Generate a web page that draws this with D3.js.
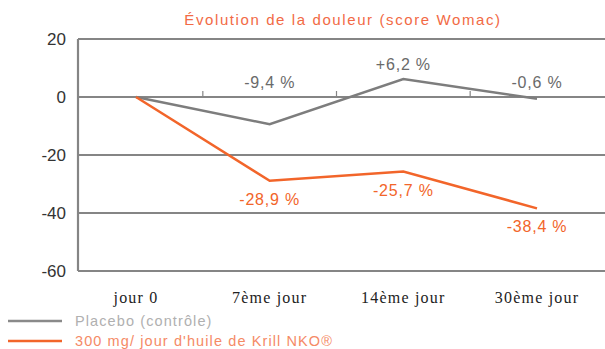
<!DOCTYPE html>
<html>
<head>
<meta charset="utf-8">
<script src="https://cdn.jsdelivr.net/npm/d3@7"></script>
<style>
  html, body { margin: 0; padding: 0; background: #fff; }
  svg { display: block; }
</style>
</head>
<body>
<svg id="chart" width="605" height="349"></svg>
<script>
// Pain score evolution (Womac), % change from day 0
const categories = ["jour 0", "7ème jour", "14ème jour", "30ème jour"];
const placebo = [0, -9.4, 6.2, -0.6];
const krill = [0, -28.9, -25.7, -38.4];
const yTicks = [20, 0, -20, -40, -60];
const seriesNames = ["Placebo (contrôle)", "300 mg/ jour d'huile de Krill NKO®"];
const titleText = "Évolution de la douleur (score Womac)";

const svg = d3.select("#chart");
const plotLeft = 78, plotRight = 605;

const x = d3.scalePoint().domain(categories).range([136, 537]);
const y = d3.scaleLinear().domain([-60, 20]).range([271, 39]);

const gridColor = "#858585";
const grayLine = "#7d7d7d";
const orange = "#f2652a";
const sans = "'Liberation Sans', Arial, sans-serif";
const serif = "'Liberation Serif', 'Times New Roman', serif";

// Title
svg.append("text")
  .attr("x", 343).attr("y", 25)
  .attr("text-anchor", "middle")
  .attr("font-family", sans).attr("font-size", 15)
  .attr("letter-spacing", 1.6)
  .attr("fill", "#f26a45")
  .text(titleText);

// Horizontal grid lines
svg.append("g").selectAll("line").data(yTicks).join("line")
  .attr("x1", plotLeft).attr("x2", plotRight)
  .attr("y1", d => y(d)).attr("y2", d => y(d))
  .attr("stroke", gridColor).attr("stroke-width", 2.2);

// Vertical axis line
svg.append("line")
  .attr("x1", plotLeft).attr("x2", plotLeft)
  .attr("y1", y(20)).attr("y2", y(-60))
  .attr("stroke", gridColor).attr("stroke-width", 2.2);

// Y tick labels
svg.append("g").selectAll("text").data(yTicks).join("text")
  .attr("x", 66).attr("y", d => y(d))
  .attr("dy", "0.36em")
  .attr("text-anchor", "end")
  .attr("font-family", sans).attr("font-size", 17)
  .attr("fill", "#333")
  .text(d => d);

// Category separator ticks on the zero line
const mids = d3.pairs(categories).map(([a, b]) => (x(a) + x(b)) / 2);
svg.append("g").selectAll("line").data(mids).join("line")
  .attr("x1", d => d).attr("x2", d => d)
  .attr("y1", y(0) - 6).attr("y2", y(0))
  .attr("stroke", gridColor).attr("stroke-width", 1.2);

// X category labels
svg.append("g").selectAll("text").data(categories).join("text")
  .attr("x", d => x(d)).attr("y", 303)
  .attr("text-anchor", "middle")
  .attr("font-family", serif).attr("font-size", 16)
  .attr("letter-spacing", 1.2)
  .attr("fill", "#222")
  .text(d => d);

const line = d3.line()
  .x((d, i) => x(categories[i]))
  .y(d => y(d));

svg.append("path").datum(placebo)
  .attr("d", line).attr("fill", "none")
  .attr("stroke", grayLine).attr("stroke-width", 2.5)
  .attr("stroke-linejoin", "miter");

svg.append("path").datum(krill)
  .attr("d", line).attr("fill", "none")
  .attr("stroke", orange).attr("stroke-width", 2.5)
  .attr("stroke-linejoin", "miter");

const fmt = v => (v > 0 ? "+" : "") + d3.format(".1f")(v).replace(".", ",").replace("−", "-") + " %";

// Value labels (skip day 0)
svg.append("g").selectAll("text").data(placebo.slice(1)).join("text")
  .attr("x", (d, i) => x(categories[i + 1]))
  .attr("y", d => y(Math.max(d, 0)) - 9)
  .attr("text-anchor", "middle")
  .attr("font-family", sans).attr("font-size", 16)
  .attr("letter-spacing", 0.8)
  .attr("fill", "#6a6a6a")
  .text(fmt);

svg.append("g").selectAll("text").data(krill.slice(1)).join("text")
  .attr("x", (d, i) => x(categories[i + 1]))
  .attr("y", d => y(d) + 24)
  .attr("text-anchor", "middle")
  .attr("font-family", sans).attr("font-size", 16)
  .attr("letter-spacing", 0.8)
  .attr("fill", orange)
  .text(fmt);

// Legend
const legend = svg.append("g");
const legendColors = ["#8a8a8a", orange];
const legendText = ["#b0b0b0", "#f58a66"];
seriesNames.forEach((name, i) => {
  const ly = 321 + i * 20;
  legend.append("line")
    .attr("x1", 8).attr("x2", 62).attr("y1", ly).attr("y2", ly)
    .attr("stroke", legendColors[i]).attr("stroke-width", 2.5);
  legend.append("text")
    .attr("x", 75).attr("y", ly).attr("dy", "0.36em")
    .attr("font-family", sans).attr("font-size", 14.5)
    .attr("letter-spacing", 1.1)
    .attr("fill", legendText[i])
    .text(name);
});
</script>
</body>
</html>
